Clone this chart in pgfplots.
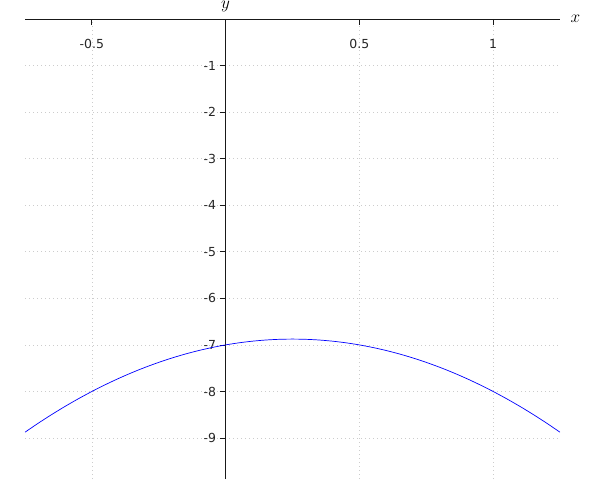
\documentclass[border=0pt]{standalone}
\usepackage{fontspec}
\setmainfont{DejaVu Sans}
\usepackage{pgfplots}
\pgfplotsset{compat=1.18}
\begin{document}
\begin{tikzpicture}
\useasboundingbox (0,0) rectangle (600bp,500bp);
\begin{axis}[
    at={(25bp,21bp)}, anchor=south west,
    scale only axis,
    width=535bp, height=460bp,
    xmin=-0.75, xmax=1.25,
    ymin=-9.88, ymax=0,
    axis lines=middle,
    axis line style={-, line width=0.8bp, black!90},
    xtick={-0.5,0.5,1},
    xticklabels={-0.5,0.5,1},
    ytick={-9,-8,-7,-6,-5,-4,-3,-2,-1},
    yticklabels={-9,-8,-7,-6,-5,-4,-3,-2,-1},
    major tick length=6bp,
    xtick style={yshift=-3bp, line width=0.8bp, black!90},
    ytick style={xshift=-3bp, line width=0.8bp, black!90},
    tick label style={font=\fontsize{12.5}{14}\selectfont, text=black!85},
    xticklabel style={yshift=-14bp},
    yticklabel style={xshift=-3bp},
    grid=major,
    major grid style={dash pattern=on 0.8bp off 3.2bp, line width=0.7bp, gray!40},
    clip=false,
    xlabel={$x$}, ylabel={$y$},
    xlabel style={font=\fontsize{17}{19}\selectfont, at={(axis description cs:1,1)}, anchor=west, xshift=7bp},
    ylabel style={font=\fontsize{17}{19}\selectfont, at={(axis cs:0,0)}, anchor=south, yshift=4bp},
]
\addplot[blue, line width=0.7bp, smooth] coordinates {
(-0.75,-8.875) (-0.70,-8.68) (-0.65,-8.495) (-0.60,-8.32) (-0.55,-8.155)
(-0.50,-8.0) (-0.45,-7.855) (-0.40,-7.72) (-0.35,-7.595) (-0.30,-7.48)
(-0.25,-7.375) (-0.20,-7.28) (-0.15,-7.195) (-0.10,-7.12) (-0.05,-7.055)
(0,-7) (0.05,-6.955) (0.10,-6.92) (0.15,-6.895) (0.20,-6.88)
(0.25,-6.875) (0.30,-6.88) (0.35,-6.895) (0.40,-6.92) (0.45,-6.955)
(0.50,-7) (0.55,-7.055) (0.60,-7.12) (0.65,-7.195) (0.70,-7.28)
(0.75,-7.375) (0.80,-7.48) (0.85,-7.595) (0.90,-7.72) (0.95,-7.855)
(1.00,-8) (1.05,-8.155) (1.10,-8.32) (1.15,-8.495) (1.20,-8.68) (1.25,-8.875)
};
\end{axis}
\end{tikzpicture}
\end{document}
